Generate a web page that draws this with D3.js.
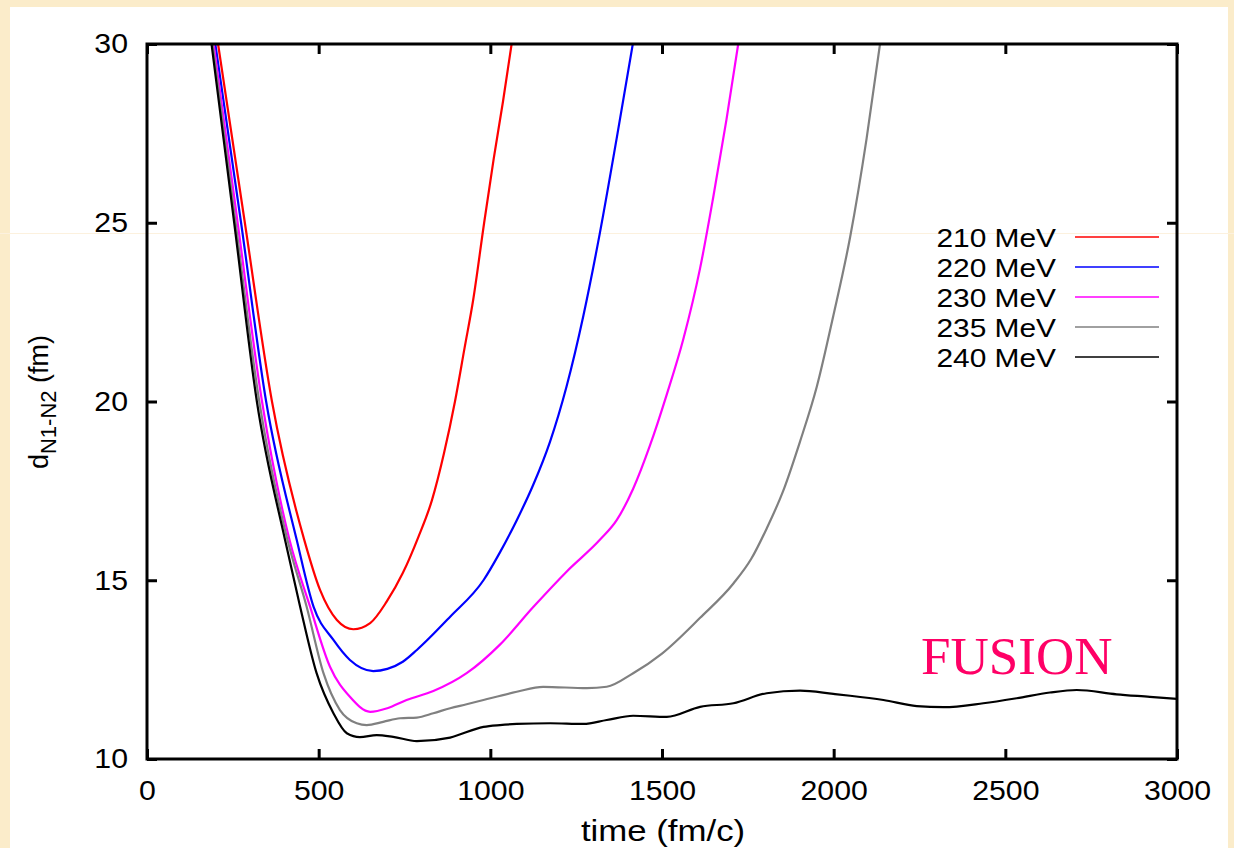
<!DOCTYPE html>
<meta charset="utf-8">
<style>
body { margin: 0; background: #fbeed3; }
svg { display: block; }
.tick text { font-family: "Liberation Sans", Arial, sans-serif; font-size: 28px; fill: #000; }
.tick line { stroke: #000; stroke-width: 3px; }
.lbl { font-family: "Liberation Sans", Arial, sans-serif; fill: #000; }
</style>
<body>
<div id="chart"></div>
<script src="https://d3js.org/d3.v7.min.js"></script>
<script>
// distance between the two nuclei vs time
var e210 = [[207,30],[285,25],[364,20],[458,16.13],[504,14.73],[553,13.89],[601,13.63],[650,13.8],[698,14.4],[745,15.2],[790,16.2],[830,17.24],[865,18.55],[897,20.0],[925,21.5],[950,22.84],[982,25],[1010,26.8],[1037,28.4],[1062,30]];
var e220 = [[199,30],[274,25],[347,20],[436,16.13],[485,14.26],[543,13.33],[591,12.77],[659,12.46],[700,12.52],[745,12.72],[786,13.05],[883,13.98],[980,15.0],[1028,15.78],[1077,16.68],[1125,17.67],[1174,18.88],[1222,20.42],[1271,22.4],[1319,24.71],[1368,27.36],[1415,30]];
var e230 = [[194,30],[264,25],[335,20],[415,16.13],[475,14.26],[533,12.58],[591,11.74],[650,11.32],[700,11.42],[756,11.65],[834,11.9],[931,12.4],[1028,13.2],[1125,14.25],[1222,15.24],[1319,16.13],[1368,16.68],[1416,17.56],[1465,18.77],[1514,20.2],[1562,21.74],[1611,23.73],[1649,25.7],[1688,27.9],[1722,30]];
var e235 = [[191,30],[258,25],[327,20],[409,16.13],[465,14.26],[514,12.4],[562,11.37],[611,11.0],[640,10.95],[688,11.04],[737,11.14],[786,11.16],[834,11.28],[883,11.42],[931,11.53],[980,11.65],[1077,11.88],[1154,12.02],[1281,11.98],[1339,12.02],[1416,12.4],[1500,12.95],[1611,13.95],[1708,14.91],[1760,15.6],[1805,16.45],[1853,17.5],[1902,18.88],[1951,20.42],[1999,22.4],[2048,24.6],[2096,27.36],[2135,30]];
var e240 = [[188,30],[254,25],[320,20],[402,16.13],[446,14.26],[494,12.4],[543,11.28],[582,10.72],[620,10.61],[669,10.67],[717,10.62],[786,10.5],[883,10.6],[980,10.9],[1028,10.95],[1077,10.98],[1174,11.0],[1271,10.98],[1339,11.09],[1416,11.21],[1514,11.18],[1611,11.46],[1708,11.56],[1805,11.84],[1902,11.91],[1999,11.82],[2048,11.77],[2145,11.65],[2242,11.48],[2320,11.45],[2436,11.56],[2533,11.7],[2630,11.86],[2708,11.93],[2824,11.81],[2921,11.74],[3000,11.68]];

var labels = ["210 MeV", "220 MeV", "230 MeV", "235 MeV", "240 MeV"];
var colors = ["#ff0000", "#0000ff", "#ff00ff", "#808080", "#000000"];
var xTicks = [0, 500, 1000, 1500, 2000, 2500, 3000];
var yTicks = [10, 15, 20, 25, 30];

var series = [e210, e220, e230, e235, e240];

var W = 1234, H = 848;
var svg = d3.select("#chart").append("svg").attr("width", W).attr("height", H);

// slide background + white panel
svg.append("rect").attr("width", W).attr("height", H).attr("fill", "#fbecca");
svg.append("rect").attr("x", 10).attr("y", 7).attr("width", 1218).attr("height", H - 7).attr("fill", "#fff");
svg.append("line").attr("x1", 0).attr("x2", W).attr("y1", 233.5).attr("y2", 233.5)
  .attr("stroke", "#fcf1de").attr("stroke-width", 1);

var x = d3.scaleLinear().domain([0, 3000]).range([147, 1177]);
var y = d3.scaleLinear().domain([10, 30]).range([759, 44]);

svg.append("defs").append("clipPath").attr("id", "clip")
  .append("rect").attr("x", 147).attr("y", 44).attr("width", 1030).attr("height", 715);

// axes, ticks pointing inward
var gx = svg.append("g").attr("transform", "translate(0,759)")
  .call(d3.axisBottom(x).tickValues(xTicks).tickSize(-10).tickPadding(21).tickFormat(d3.format("d")));
var gy = svg.append("g").attr("transform", "translate(147,0)")
  .call(d3.axisLeft(y).tickValues(yTicks).tickSize(-10).tickPadding(19).tickFormat(d3.format("d")));
svg.append("g").attr("transform", "translate(0,44)")
  .call(d3.axisTop(x).tickValues(xTicks).tickSize(-10).tickFormat(""));
svg.append("g").attr("transform", "translate(1177,0)")
  .call(d3.axisRight(y).tickValues(yTicks).tickSize(-10).tickFormat(""));
svg.selectAll(".domain").remove();

// gnuplot output is a bit stretched sideways
gx.selectAll("text").attr("transform", "scale(1.08,1)");
gy.selectAll("text").attr("x", 0).attr("transform", "translate(-19,0) scale(1.08,1)");

var line = d3.line()
  .x(function(d) { return x(d[0]); })
  .y(function(d) { return y(d[1]); })
  .curve(d3.curveMonotoneX);

svg.append("g").attr("clip-path", "url(#clip)")
  .selectAll("path")
  .data(series)
  .join("path")
  .attr("d", line)
  .attr("fill", "none")
  .attr("stroke", function(d, i) { return colors[i]; })
  .attr("stroke-width", 2.2)
  .attr("stroke-linejoin", "round");

svg.append("rect").attr("x", 147).attr("y", 44).attr("width", 1030).attr("height", 715)
  .attr("fill", "none").attr("stroke", "#000").attr("stroke-width", 3);

// legend
var leg = svg.append("g").selectAll("g").data(labels).join("g")
  .attr("transform", function(d, i) { return "translate(0," + (237 + i * 30) + ")"; });
leg.append("line").attr("x1", 1075).attr("x2", 1159)
  .attr("stroke", function(d, i) { return colors[i]; }).attr("stroke-width", 1.4);
leg.append("text").attr("class", "lbl")
  .attr("transform", "translate(1056,10) scale(1.15,1)")
  .attr("text-anchor", "end").attr("font-size", 26)
  .text(function(d) { return d; });

// axis titles
svg.append("text").attr("class", "lbl")
  .attr("transform", "translate(663,841) scale(1.2,1)")
  .attr("text-anchor", "middle").attr("font-size", 29)
  .text("time (fm/c)");

var yl = svg.append("text").attr("class", "lbl")
  .attr("transform", "translate(48,402) rotate(-90)")
  .attr("text-anchor", "middle").attr("font-size", 27);
yl.append("tspan").text("d");
yl.append("tspan").attr("font-size", 22).attr("dy", 8).text("N1-N2");
yl.append("tspan").attr("dy", -8).text(" (fm)");

svg.append("text")
  .attr("x", 921).attr("y", 674)
  .attr("font-family", "'Liberation Serif', 'Times New Roman', serif")
  .attr("font-size", 53).attr("fill", "#ff0066")
  .text("FUSION");
</script>
</body>
